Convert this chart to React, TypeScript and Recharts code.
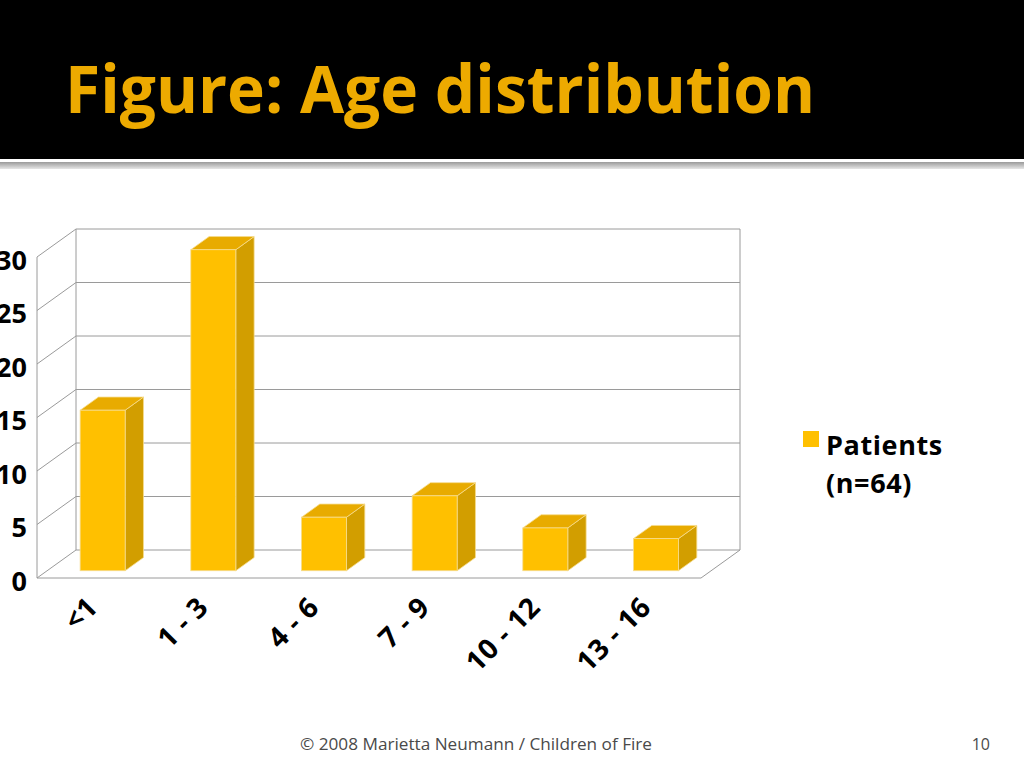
import React from 'react';
import { BarChart, Bar, XAxis, YAxis, CartesianGrid, Legend } from 'recharts';

const AGE_GROUPS = ['<1', '1 - 3', '4 - 6', '7 - 9', '10 - 12', '13 - 16'];
const PATIENTS = [15, 30, 5, 7, 4, 3];
const Y_TICKS = [0, 5, 10, 15, 20, 25, 30];
const SERIES_NAME = 'Patients';
const SERIES_SUB = '(n=64)';
const TITLE = 'Figure: Age distribution';
const FOOTER = '\u00A9 2008 Marietta Neumann / Children of Fire';
const PAGE_NO = '10';

const data = AGE_GROUPS.map((g, i) => ({ group: g, patients: PATIENTS[i] }));

// 3D styling constants
const DX = 39;
const DY = -28;
const FACE_SHIFT = 0.26;
const BAR_DEPTH = 0.47;
const GRID = '#9a9a9a';
const GOLD = '#FFC000';
const GOLD_TOP = '#E8AB00';
const GOLD_SIDE = '#D29E00';
const EDGE = '#F6DC8E';
const FONT = '"Open Sans", "Noto Sans", sans-serif';

const GridLine = (props: any) => {
  const { x1, x2, y1, x, y, width, height } = props;
  const bottom = y + height;
  const isBottom = Math.abs(y1 - bottom) < 0.5;
  const isTop = Math.abs(y1 - y) < 0.5;
  return (
    <g>
      <line x1={x1} y1={y1} x2={x1 + DX} y2={y1 + DY} stroke={GRID} strokeWidth={1} />
      <line x1={x1 + DX} y1={y1 + DY} x2={x2 + DX} y2={y1 + DY} stroke={GRID} strokeWidth={1} />
      {isBottom && (
        <>
          <line x1={x1} y1={y1} x2={x2} y2={y1} stroke={GRID} strokeWidth={1} />
          <line x1={x2} y1={y1} x2={x2 + DX} y2={y1 + DY} stroke={GRID} strokeWidth={1} />
        </>
      )}
      {isTop && (
        <>
          <line x1={x1} y1={y1} x2={x1} y2={bottom} stroke={GRID} strokeWidth={1} />
          <line x1={x1 + DX} y1={y1 + DY} x2={x1 + DX} y2={bottom + DY} stroke={GRID} strokeWidth={1} />
          <line x1={x2 + DX} y1={y1 + DY} x2={x2 + DX} y2={bottom + DY} stroke={GRID} strokeWidth={1} />
        </>
      )}
    </g>
  );
};

const Bar3D = (props: any) => {
  const { x, y, width, height } = props;
  if (width == null || height == null) return null;
  const fx = x + DX * FACE_SHIFT;
  const fy = y + DY * FACE_SHIFT;
  const bx = DX * BAR_DEPTH;
  const by = DY * BAR_DEPTH;
  const w = width;
  const h = height;
  return (
    <g>
      <polygon
        points={`${fx + w},${fy} ${fx + w + bx},${fy + by} ${fx + w + bx},${fy + h + by} ${fx + w},${fy + h}`}
        fill={GOLD_SIDE}
        stroke={EDGE}
        strokeWidth={0.8}
      />
      <polygon
        points={`${fx},${fy} ${fx + bx},${fy + by} ${fx + w + bx},${fy + by} ${fx + w},${fy}`}
        fill={GOLD_TOP}
        stroke={EDGE}
        strokeWidth={0.8}
      />
      <rect x={fx} y={fy} width={w} height={h} fill={GOLD} stroke={EDGE} strokeWidth={0.8} />
    </g>
  );
};

const XTick = (props: any) => {
  const { x, y, payload } = props;
  const tx = x + 7;
  const ty = y + 31;
  return (
    <text
      x={tx}
      y={ty}
      transform={`rotate(-45, ${tx}, ${ty})`}
      textAnchor="end"
      fontFamily={FONT}
      fontWeight={700}
      fontSize={28}
      letterSpacing={0.5}
      fill="#000"
    >
      {payload.value}
    </text>
  );
};

const YTick = (props: any) => {
  const { x, y, payload } = props;
  return (
    <text
      x={x}
      y={y + 3}
      dy="0.355em"
      textAnchor="end"
      fontFamily={FONT}
      fontWeight={700}
      fontSize={27}
      fill="#000"
    >
      {payload.value}
    </text>
  );
};

const LegendContent = () => (
  <div style={{ position: 'relative', width: 0, height: 0, overflow: 'visible' }}>
    <svg width={200} height={90} style={{ position: 'absolute', left: 0, top: 0, overflow: 'visible' }}>
      <rect x={0} y={3} width={16} height={16} fill={GOLD} />
      <text x={23} y={27} fontFamily={FONT} fontWeight={700} fontSize={27} letterSpacing={0.6} fill="#000">
        {SERIES_NAME}
      </text>
      <text x={23} y={65} fontFamily={FONT} fontWeight={700} fontSize={27} letterSpacing={0.6} fill="#000">
        {SERIES_SUB}
      </text>
    </svg>
  </div>
);

export default function App() {
  return (
    <div
      style={{
        position: 'fixed',
        left: 0,
        top: 0,
        width: 1024,
        height: 768,
        background: '#fff',
        overflow: 'hidden',
      }}
    >
      <svg width={1024} height={768} style={{ position: 'absolute', left: 0, top: 0 }}>
        <defs>
          <linearGradient id="shadow" x1="0" y1="0" x2="0" y2="1">
            <stop offset="0" stopColor="#9a9a9a" />
            <stop offset="1" stopColor="#e6e6e6" />
          </linearGradient>
        </defs>
        <rect x={0} y={0} width={1024} height={159} fill="#000" />
        <rect x={0} y={162} width={1024} height={7} fill="url(#shadow)" />
        <text
          x={65}
          y={113}
          fontFamily={FONT}
          fontWeight={700}
          fontSize={67}
          fill="#EDAA00"
          textLength={750}
          lengthAdjust="spacingAndGlyphs"
        >
          {TITLE}
        </text>
        <text
          x={300}
          y={750}
          fontFamily={FONT}
          fontSize={16}
          fill="#4a4a4a"
          textLength={352}
          lengthAdjust="spacingAndGlyphs"
        >
          {FOOTER}
        </text>
        <text x={990} y={750} textAnchor="end" fontFamily={FONT} fontSize={16} fill="#4a4a4a">
          {PAGE_NO}
        </text>
      </svg>
      <div style={{ position: 'absolute', left: 0, top: 0 }}>
        <BarChart
          width={1024}
          height={768}
          data={data}
          margin={{ top: 257, right: 323, bottom: 90, left: 0 }}
        >
          <CartesianGrid vertical={false} horizontal={GridLine} />
          <XAxis
            dataKey="group"
            axisLine={false}
            tickLine={false}
            tickSize={0}
            tickMargin={0}
            height={100}
            interval={0}
            tick={XTick}
          />
          <YAxis
            domain={[0, 30]}
            ticks={Y_TICKS}
            axisLine={false}
            tickLine={false}
            tickSize={0}
            tickMargin={10}
            width={37}
            tick={YTick}
          />
          <Legend
            content={LegendContent}
            wrapperStyle={{ left: 803, top: 428, width: 0, height: 0 }}
          />
          <Bar
            dataKey="patients"
            name={SERIES_NAME}
            barSize={45}
            shape={Bar3D}
            isAnimationActive={false}
          />
        </BarChart>
      </div>
    </div>
  );
}
